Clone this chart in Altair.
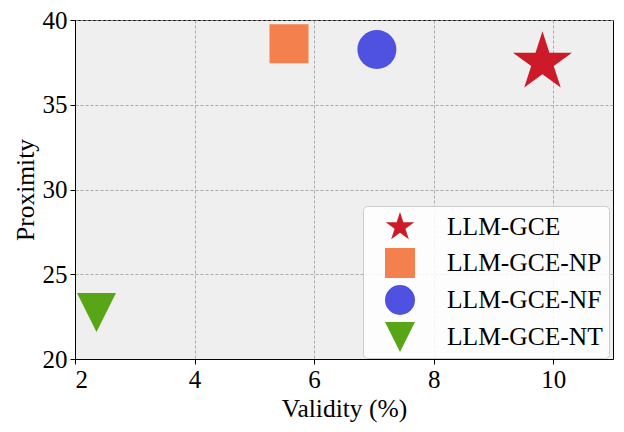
import altair as alt
import pandas as pd

methods = ["LLM-GCE", "LLM-GCE-NP", "LLM-GCE-NF", "LLM-GCE-NT"]
validity = [9.82, 5.58, 7.05, 2.36]
proximity = [37.5, 38.6, 38.26, 22.74]
x_ticks = [2, 4, 6, 8, 10]
y_ticks = [20, 25, 30, 35, 40]

df = pd.DataFrame({"method": methods, "validity": validity, "proximity": proximity})

star = "M0,-1L0.2245,-0.309L0.951,-0.309L0.3633,0.118L0.588,0.809L0,0.382L-0.588,0.809L-0.3633,0.118L-0.951,-0.309L-0.2245,-0.309Z"
tri_down = "M-1,-1L1,-1L0,1Z"

FONT = "Liberation Serif, Times New Roman, serif"

chart = alt.Chart(df).mark_point(filled=True, opacity=1, strokeWidth=0).encode(
    x=alt.X("validity:Q", title="Validity (%)",
            scale=alt.Scale(domain=[2, 11], nice=False, zero=False),
            axis=alt.Axis(values=x_ticks, titlePadding=4)),
    y=alt.Y("proximity:Q", title="Proximity",
            scale=alt.Scale(domain=[20, 40], nice=False, zero=False),
            axis=alt.Axis(values=y_ticks, titlePadding=4)),
    color=alt.Color("method:N", scale=alt.Scale(domain=methods,
                    range=["#CC1A28", "#F3804D", "#4F51E0", "#58A618"]),
                    legend=alt.Legend(title=None, orient="none", legendX=288, legendY=186,
                                      symbolSize=900, labelFont=FONT, labelFontSize=25.5,
                                      labelColor="black", fillColor="rgba(255,255,255,0.85)",
                                      strokeColor="#cccccc", cornerRadius=4, padding=6,
                                      rowPadding=7, symbolOffset=16, labelOffset=32,
                                      symbolStrokeWidth=0, labelLimit=300)),
    shape=alt.Shape("method:N", scale=alt.Scale(domain=methods,
                    range=[star, "square", "circle", tri_down])),
    size=alt.condition(alt.datum.method == "LLM-GCE", alt.value(3850), alt.value(1520)),
).properties(
    width=538, height=339,
    autosize=alt.AutoSizeParams(type="none"),
    padding={"left": 67, "top": 12, "right": 3, "bottom": 65},
).configure_view(
    fill="#EFEFEF", stroke="black", strokeWidth=1
).configure_axis(
    labelFont=FONT, titleFont=FONT, labelFontSize=25, titleFontSize=25.5,
    labelColor="black", titleColor="black", titleFontWeight="normal",
    domainColor="black", tickColor="black", tickSize=5,
    gridColor="#9a9a9a", gridDash=[3, 2], gridWidth=0.8,
    labelPadding=3,
)

chart.save("out.html", embed_options={"renderer": "svg", "actions": False})
